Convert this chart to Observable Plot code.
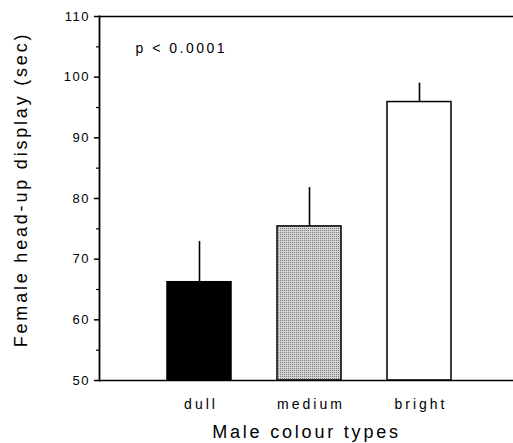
<!DOCTYPE html>
<html>
<head>
<meta charset="utf-8">
<script src="https://cdn.jsdelivr.net/npm/d3@7"></script>
<script src="https://cdn.jsdelivr.net/npm/@observablehq/plot@0.6"></script>
<style>
  body { margin: 0; background: white; }
  svg { font-family: "Liberation Sans", Arial, Helvetica, sans-serif; color: black; }
  .ytick text { letter-spacing: 1.5px; }
  .xtick text { letter-spacing: 3px; }
  .ptext text { letter-spacing: 2.5px; }
  .biglabel text { letter-spacing: 2.8px; }
</style>
</head>
<body>
<div id="chart"></div>
<script>
const categories = ["dull", "medium", "bright"];
const means = [66.2, 75.4, 95.9];
const errorTops = [72.9, 81.8, 99.0];
const barFills = ["black", "url(#stipple)", "white"];
const yTicks = [50, 60, 70, 80, 90, 100, 110];
const yMinorTicks = [55, 65, 75, 85, 95, 105];
const yLabel = "Female head-up display (sec)";
const xLabel = "Male colour types";
const note = "p < 0.0001";

const data = categories.map((c, i) => ({cat: c, mean: means[i], top: errorTops[i], fill: barFills[i]}));

const chart = Plot.plot({
  width: 513,
  height: 443,
  marginLeft: 99,
  marginRight: 0,
  marginTop: 16,
  marginBottom: 63,
  x: {domain: categories, range: [144, 474], paddingInner: 0.418, paddingOuter: 0.209},
  y: {domain: [50, 110]},
  color: {type: "identity"},
  marks: [
    Plot.barY(data, {x: "cat", y1: 50, y2: "mean", fill: "fill", stroke: "black", strokeWidth: 1.5}),
    Plot.ruleX(data, {x: "cat", y1: "mean", y2: "top", stroke: "black", strokeWidth: 1.6}),
    Plot.frame({anchor: "left", stroke: "black", strokeWidth: 1.8}),
    Plot.ruleY([50, 110], {stroke: "black", strokeWidth: 1.6}),
    Plot.axisY({ticks: yTicks, tickSize: 5, tickPadding: 4.5, fontSize: 13, label: null, className: "ytick", strokeWidth: 1.5}),
    Plot.axisY({ticks: yMinorTicks, tickSize: 3, tickFormat: () => "", label: null, strokeWidth: 1.2}),
    Plot.axisX({tickSize: 0, tickPadding: 19, fontSize: 14, label: null, className: "xtick", dx: 1.5}),
    Plot.text([note], {frameAnchor: "top-left", dx: 36, dy: 27, textAnchor: "start", lineAnchor: "top", fontSize: 14, className: "ptext"}),
    Plot.text([yLabel], {frameAnchor: "left", dx: -78, dy: -9, rotate: -90, textAnchor: "middle", lineAnchor: "middle", fontSize: 18, className: "biglabel"}),
    Plot.text([xLabel], {frameAnchor: "bottom", dy: 52, dx: 0, textAnchor: "middle", lineAnchor: "middle", fontSize: 18, className: "biglabel"})
  ]
});

const svg = d3.select(chart);
const defs = svg.insert("defs", ":first-child");
const pat = defs.append("pattern").attr("id", "stipple").attr("patternUnits", "userSpaceOnUse").attr("width", 2).attr("height", 2);
pat.append("rect").attr("width", 2).attr("height", 2).attr("fill", "#d4d4d4");
pat.append("rect").attr("width", 1).attr("height", 1).attr("fill", "#7a7a7a");

document.getElementById("chart").appendChild(chart);
</script>
</body>
</html>
